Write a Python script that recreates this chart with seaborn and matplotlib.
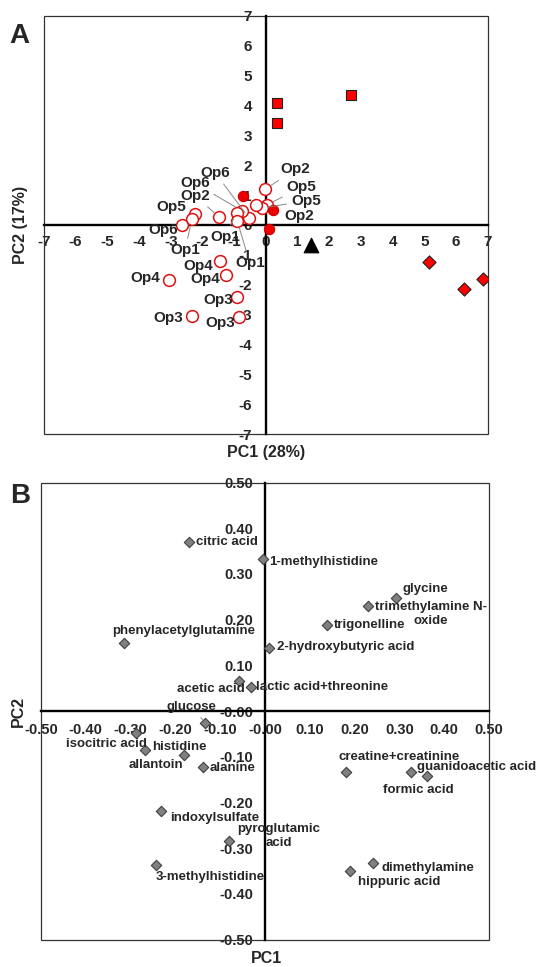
import numpy as np
import pandas as pd
import matplotlib
matplotlib.use("Agg")
import matplotlib.pyplot as plt
from matplotlib.patches import Rectangle
import seaborn as sns

sns.set_style("white")
plt.rcParams['font.family'] = ['Liberation Sans', 'DejaVu Sans']
plt.rcParams['font.weight'] = 'bold'
plt.rcParams['axes.unicode_minus'] = False

# ---- panel A: PCA scores ----
open_x = [-0.03, 0.03, -0.13, -0.31, -0.52, -0.76, -0.92, -0.90, -1.47, -2.22, -2.33, -2.63,
          -1.44, -1.26, -3.04, -0.90, -2.33, -0.84]
open_y = [1.19, 0.67, 0.56, 0.67, 0.22, 0.48, 0.41, 0.13, 0.26, 0.37, 0.19, 0.00,
          -1.20, -1.67, -1.84, -2.42, -3.03, -3.07]
open_lab = ['Op2', 'Op5', 'Op5', 'Op2', 'Op6', 'Op6', 'Op1', 'Op1', 'Op2', 'Op5', 'Op1', 'Op6',
            'Op4', 'Op4', 'Op4', 'Op3', 'Op3', 'Op3']
filled_x = [-0.73, 0.24, 0.09]
filled_y = [0.97, 0.49, -0.14]
square_x = [0.36, 0.36, 2.68]
square_y = [4.09, 3.40, 4.34]
diamond_x = [5.15, 6.24, 6.85]
diamond_y = [-1.23, -2.13, -1.81]
triangle_x = [1.42]
triangle_y = [-0.68]

# label placement for the open circles (text position, leader line or not)
open_lab_pos = [(0.94, 1.86), (1.13, 1.26), (1.27, 0.81), (1.06, 0.31), (-1.60, 1.75), (-2.23, 1.39),
                (-1.29, -0.39), (-0.50, -1.28), (-2.23, 0.98), (-2.97, 0.61), (-2.55, -0.84), (-3.23, -0.17),
                (-2.13, -1.37), (-1.92, -1.82), (-3.81, -1.76), (-1.50, -2.51), (-3.08, -3.12), (-1.44, -3.29)]
open_leader = [True, True, True, False, True, True, True, True, True, False, True, False,
               False, False, False, False, False, False]

# ---- panel B: loadings ----
metab = ['citric acid', '1-methylhistidine', 'glycine', 'trimethylamine N-\noxide', 'trigonelline',
         '2-hydroxybutyric acid', 'phenylacetylglutamine', 'acetic acid', 'lactic acid+threonine',
         'glucose', 'isocitric acid', 'histidine', 'allantoin', 'alanine', 'indoxylsulfate',
         'pyroglutamic\nacid', '3-methylhistidine', 'creatine+creatinine', 'formic acid',
         'guanidoacetic acid', 'dimethylamine', 'hippuric acid']
load_pc1 = [-0.170, -0.004, 0.292, 0.231, 0.138, 0.009, -0.314, -0.058, -0.032, -0.133, -0.288,
            -0.267, -0.180, -0.138, -0.233, -0.080, -0.243, 0.181, 0.327, 0.361, 0.242, 0.190]
load_pc2 = [0.370, 0.332, 0.248, 0.230, 0.188, 0.139, 0.149, 0.066, 0.053, -0.026, -0.047,
            -0.085, -0.096, -0.122, -0.218, -0.284, -0.337, -0.134, -0.134, -0.142, -0.333, -0.350]
# text position and horizontal alignment of each loading label
metab_pos = [(-0.153, 0.370, 'left'), (0.0096, 0.326, 'left'), (0.307, 0.266, 'left'),
             (0.371, 0.2125, 'center'), (0.154, 0.189, 'left'), (0.026, 0.141, 'left'),
             (-0.182, 0.176, 'center'), (-0.0446, 0.048, 'right'), (-0.021, 0.053, 'left'),
             (-0.164, 0.008, 'center'), (-0.444, -0.073, 'left'), (-0.251, -0.078, 'left'),
             (-0.305, -0.118, 'left'), (-0.124, -0.124, 'left'), (-0.212, -0.233, 'left'),
             (0.031, -0.2735, 'center'), (-0.243, -0.363, 'left'), (0.164, -0.100, 'left'),
             (0.264, -0.173, 'left'), (0.340, -0.122, 'left'), (0.260, -0.344, 'left'),
             (0.208, -0.374, 'left')]

fig = plt.figure(figsize=(5.42, 9.67), dpi=100)
axA = fig.add_axes([0.081, 0.5509, 0.8188, 0.4329])
axB = fig.add_axes([0.0756, 0.0284, 0.8266, 0.4726])


def cross_axes(ax, lim, ticks, fmt, direction, xpad, ypad, size):
    ax.set_xlim(-lim, lim)
    ax.set_ylim(-lim, lim)
    for s in ['top', 'right']:
        ax.spines[s].set_visible(False)
    for s in ['left', 'bottom']:
        ax.spines[s].set_position(('data', 0))
        ax.spines[s].set_linewidth(1.7)
        ax.spines[s].set_color('black')
        ax.spines[s].set_zorder(1)
    ax.add_patch(Rectangle((0, 0), 1, 1, transform=ax.transAxes, fill=False,
                           lw=0.9, ec='#333333', clip_on=False))
    ax.set_xticks(ticks)
    ax.set_yticks(ticks)
    ax.set_xticklabels([fmt(t) for t in ticks])
    ax.set_yticklabels([fmt(t) for t in ticks])
    ax.tick_params(direction=direction, length=3.5, width=1, color='black', labelsize=size)
    ax.tick_params(axis='x', pad=xpad)
    ax.tick_params(axis='y', pad=ypad)
    for lab in ax.get_xticklabels() + ax.get_yticklabels():
        lab.set_fontweight('bold')
    ax.set_xlabel('')
    ax.set_ylabel('')


# panel A
sns.scatterplot(x=open_x, y=open_y, ax=axA, marker='o', s=72, facecolor='white',
                edgecolor='#dd1111', linewidth=1.1, zorder=3)
sns.scatterplot(x=filled_x, y=filled_y, ax=axA, marker='o', s=55, color='#ee0000',
                edgecolor='#cc0000', linewidth=0.8, zorder=3)
sns.scatterplot(x=square_x, y=square_y, ax=axA, marker='s', s=60, color='#ff0000',
                edgecolor='#222222', linewidth=0.8, zorder=3)
sns.scatterplot(x=diamond_x, y=diamond_y, ax=axA, marker='D', s=45, color='#ff0000',
                edgecolor='#222222', linewidth=0.8, zorder=3)
sns.scatterplot(x=triangle_x, y=triangle_y, ax=axA, marker='^', s=110, color='black',
                edgecolor='black', zorder=3)
cross_axes(axA, 7, list(range(-7, 8)), lambda t: f"{t:d}", 'in', 7, 10, 11)
for xi, yi, lab, (tx, ty), lead in zip(open_x, open_y, open_lab, open_lab_pos, open_leader):
    if lead:
        axA.annotate(lab, xy=(xi, yi), xytext=(tx, ty), ha='center', va='center',
                     fontsize=11, fontweight='bold', zorder=4,
                     arrowprops=dict(arrowstyle='-', color='#888888', lw=0.7,
                                     shrinkA=1, shrinkB=5))
    else:
        axA.text(tx, ty, lab, ha='center', va='center', fontsize=11,
                 fontweight='bold', zorder=4)
fig.text(0.4908, 0.532, 'PC1 (28%)', ha='center', va='center', fontsize=11.5, fontweight='bold')
fig.text(0.037, 0.767, 'PC2 (17%)', ha='center', va='center', rotation=90,
         fontsize=11.5, fontweight='bold')
fig.text(0.018, 0.963, 'A', ha='left', va='center', fontsize=20, fontweight='bold')

# panel B
sns.scatterplot(x=load_pc1, y=load_pc2, ax=axB, marker='D', s=28, color='#808080',
                edgecolor='#404040', linewidth=0.8, zorder=3)
cross_axes(axB, 0.5, list(np.round(np.arange(-0.5, 0.51, 0.1), 2)),
           lambda t: f"{t:.2f}", 'out', 5, 5, 10.5)
for xi, yi, lab, (tx, ty, ha) in zip(load_pc1, load_pc2, metab, metab_pos):
    if lab == 'glucose':
        axB.annotate(lab, xy=(xi, yi), xytext=(tx, ty), ha=ha, va='center',
                     fontsize=9.5, fontweight='bold', zorder=4,
                     arrowprops=dict(arrowstyle='-', color='#888888', lw=0.7,
                                     shrinkA=1, shrinkB=3))
    else:
        axB.text(tx, ty, lab, ha=ha, va='center', fontsize=9.5, fontweight='bold',
                 multialignment='center', zorder=4)
fig.text(0.4908, 0.009, 'PC1', ha='center', va='center', fontsize=11.5, fontweight='bold')
fig.text(0.033, 0.264, 'PC2', ha='center', va='center', rotation=90,
         fontsize=11.5, fontweight='bold')
fig.text(0.018, 0.487, 'B', ha='left', va='center', fontsize=20, fontweight='bold')

fig.savefig('out.png', dpi=100)
